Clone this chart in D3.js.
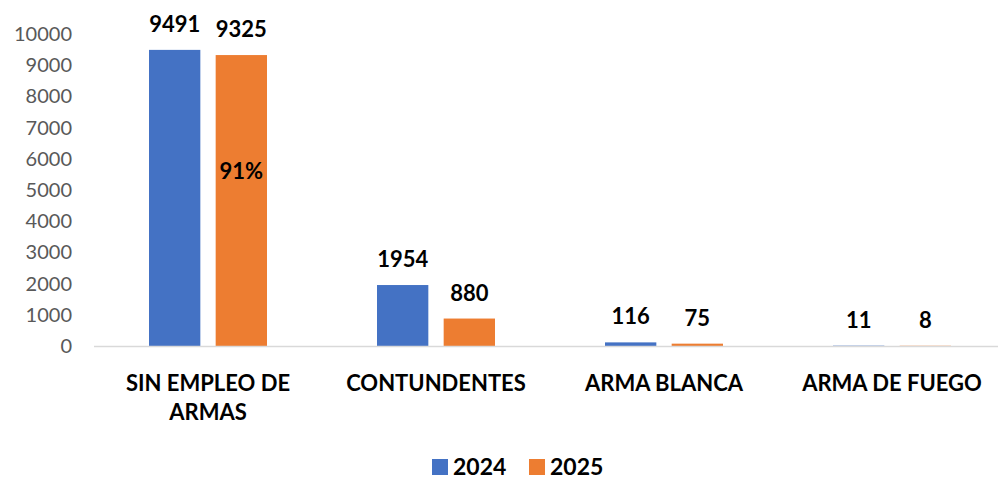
<!DOCTYPE html>
<html>
<head>
<meta charset="utf-8">
<script src="https://cdn.jsdelivr.net/npm/d3@7"></script>
<style>
  body { margin: 0; background: #fff; }
  svg { display: block; font-family: Lato, "Open Sans", sans-serif; }
</style>
</head>
<body>
<div id="chart"></div>
<script>
var svgWidth = 998;
var svgHeight = 479;

// data
var categories = ["SIN EMPLEO DE ARMAS", "CONTUNDENTES", "ARMA BLANCA", "ARMA DE FUEGO"];
var categoryLines = [["SIN EMPLEO DE", "ARMAS"], ["CONTUNDENTES"], ["ARMA BLANCA"], ["ARMA DE FUEGO"]];
var series = ["2024", "2025"];
var values2024 = [9491, 1954, 116, 11];
var values2025 = [9325, 880, 75, 8];
var yTicks = [0, 1000, 2000, 3000, 4000, 5000, 6000, 7000, 8000, 9000, 10000];
var colors = ["#4472C4", "#ED7D31"];

var svg = d3.select("#chart")
    .append("svg")
    .attr("width", svgWidth)
    .attr("height", svgHeight);

var x0 = d3.scaleBand()
    .domain(categories)
    .range([94, 1006])
    .padding(0);

var x1 = d3.scaleBand()
    .domain(series)
    .range([55, 173])
    .paddingInner(0.23);

var y = d3.scaleLinear()
    .domain([0, 10000])
    .range([346, 34]);

// left axis labels only
var leftAxis = d3.axisLeft(y)
    .tickValues(yTicks)
    .tickSize(0)
    .tickPadding(0)
    .tickFormat(d3.format("d"));

var yAxisG = svg.append("g")
    .attr("transform", "translate(72,0)")
    .call(leftAxis);
yAxisG.select(".domain").remove();
yAxisG.selectAll("text")
    .attr("fill", "#595959")
    .style("font-size", "20px")
    .style("font-family", "Lato, sans-serif");

// bars
var rows = categories.map(function (c, i) {
    return { cat: c, vals: [values2024[i], values2025[i]] };
});

var groups = svg.selectAll(".grp")
    .data(rows)
    .enter()
    .append("g")
    .attr("class", "grp")
    .attr("transform", d => `translate(${x0(d.cat)},0)`);

groups.selectAll("rect")
    .data(d => d.vals.map((v, j) => ({ s: series[j], v: v, j: j })))
    .enter()
    .append("rect")
    .attr("x", d => x1(d.s))
    .attr("y", d => y(d.v))
    .attr("width", x1.bandwidth())
    .attr("height", d => y(0) - y(d.v))
    .attr("fill", d => colors[d.j]);

// baseline
svg.append("line")
    .attr("x1", x0.range()[0])
    .attr("x2", x0.range()[1])
    .attr("y1", y(0) + 0.5)
    .attr("y2", y(0) + 0.5)
    .attr("stroke", "#d9d9d9")
    .attr("stroke-width", 1.5);

// value labels
groups.selectAll(".val")
    .data(d => d.vals.map((v, j) => ({ s: series[j], v: v })))
    .enter()
    .append("text")
    .attr("class", "val")
    .attr("x", d => x1(d.s) + x1.bandwidth() / 2)
    .attr("y", d => y(d.v) - 18)
    .attr("text-anchor", "middle")
    .style("font-size", "22px")
    .style("font-weight", "bold")
    .attr("fill", "#000")
    .text(d => d.v);

// percentage inside the 2025 bar
svg.append("text")
    .attr("x", x0(categories[0]) + x1("2025") + x1.bandwidth() / 2)
    .attr("y", y(5350))
    .attr("text-anchor", "middle")
    .style("font-size", "22px")
    .style("font-weight", "bold")
    .attr("fill", "#000")
    .text("91%");

// category labels
var catText = svg.selectAll(".cat")
    .data(categories)
    .enter()
    .append("text")
    .attr("class", "cat")
    .attr("x", d => x0(d) + x0.bandwidth() / 2)
    .attr("y", 391)
    .attr("text-anchor", "middle")
    .style("font-size", "22px")
    .style("font-weight", "bold")
    .attr("fill", "#000");

catText.each(function (d, i) {
    var t = d3.select(this);
    categoryLines[i].forEach(function (line, k) {
        t.append("tspan")
            .attr("x", x0(d) + x0.bandwidth() / 2)
            .attr("dy", k === 0 ? 0 : 29)
            .text(line);
    });
});

// legend
var legendX = [432, 529];
var legend = svg.selectAll(".leg")
    .data(series)
    .enter()
    .append("g")
    .attr("class", "leg")
    .attr("transform", (d, i) => `translate(${legendX[i]},459)`);

legend.append("rect")
    .attr("width", 16)
    .attr("height", 16)
    .attr("fill", (d, i) => colors[i]);

legend.append("text")
    .attr("x", 21)
    .attr("y", 16)
    .style("font-size", "23px")
    .style("font-weight", "bold")
    .attr("fill", "#000")
    .text(d => d);
</script>
</body>
</html>
